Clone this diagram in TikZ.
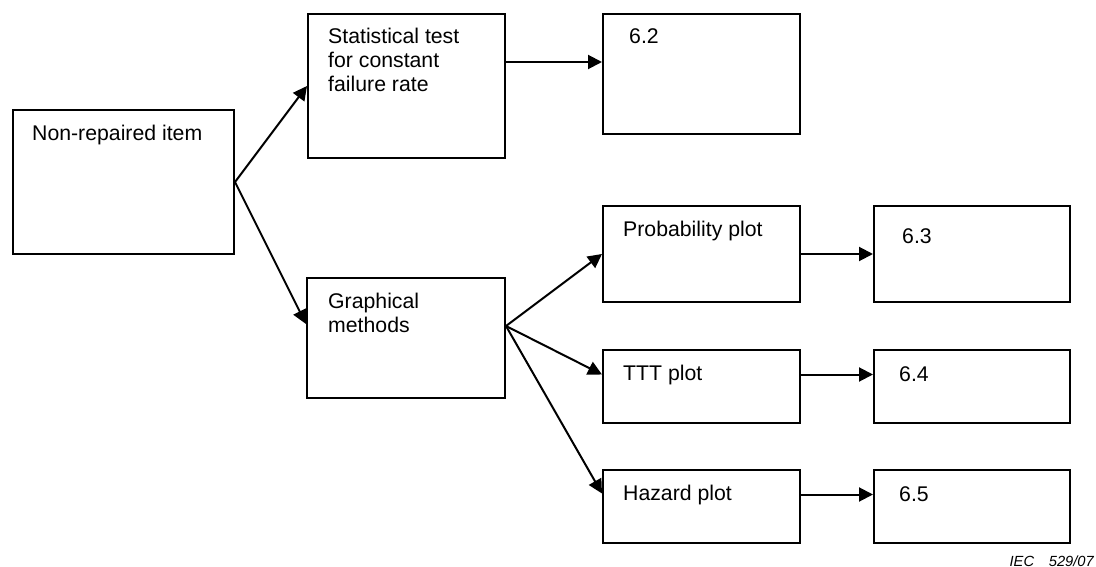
\documentclass[tikz,border=0pt]{standalone}
\usepackage{fontspec}
\setmainfont{Liberation Sans}
\usetikzlibrary{arrows.meta}
\begin{document}
\begin{tikzpicture}[x=1pt,y=-1pt]
		\tikzset{box/.style = {shape=rectangle,draw,line width=2pt,anchor=north west,inner sep=0pt}}
		\tikzset{lbl/.style = {anchor=north west,inner sep=0pt,align=left,font=\fontsize{21.25}{24}\selectfont}}
		\tikzset{arr/.style = {-{Triangle[length=14pt,width=14pt]},line width=2pt}}
		\useasboundingbox (0,0) rectangle (1096,567);
		% boxes
		\node[box,minimum width=221pt,minimum height=144pt] (item) at (12,109) {};
		\node[box,minimum width=197pt,minimum height=144pt] (stat) at (307,13) {};
		\node[box,minimum width=197pt,minimum height=120pt] (s62) at (602,13) {};
		\node[box,minimum width=198pt,minimum height=120pt] (graph) at (306,277) {};
		\node[box,minimum width=197pt,minimum height=96pt] (prob) at (602,205) {};
		\node[box,minimum width=196pt,minimum height=96pt] (s63) at (873,205) {};
		\node[box,minimum width=197pt,minimum height=73pt] (ttt) at (602,349) {};
		\node[box,minimum width=196pt,minimum height=73pt] (s64) at (873,349) {};
		\node[box,minimum width=197pt,minimum height=73pt] (hazard) at (602,469) {};
		\node[box,minimum width=196pt,minimum height=73pt] (s65) at (873,469) {};
		% texts
		\node[lbl] (itemtxt) at ([shift={(20,16)}]item.north west) {Non-repaired item};
		\node[lbl] (stattxt) at ([shift={(21,15)}]stat.north west) {Statistical test\\for constant\\failure rate};
		\node[lbl] (s62txt) at ([shift={(27,15)}]s62.north west) {6.2};
		\node[lbl] (graphtxt) at ([shift={(22,16)}]graph.north west) {Graphical\\methods};
		\node[lbl] (probtxt) at ([shift={(21,16)}]prob.north west) {Probability plot};
		\node[lbl] (s63txt) at ([shift={(29,23)}]s63.north west) {6.3};
		\node[lbl] (ttttxt) at ([shift={(21,16)}]ttt.north west) {TTT plot};
		\node[lbl] (s64txt) at ([shift={(26,17)}]s64.north west) {6.4};
		\node[lbl] (hazardtxt) at ([shift={(21,16)}]hazard.north west) {Hazard plot};
		\node[lbl] (s65txt) at ([shift={(26,17)}]s65.north west) {6.5};
		\node[anchor=base east,inner sep=0pt,font=\fontsize{14.7}{16}\itshape] (iec) at (1094,566) {IEC\quad 529/07};
		% connectors
		\coordinate (gfork) at ([yshift=12pt]graph.east);
		\draw[arr] (item.east) -- (stat.west);
		\draw[arr] (item.east) -- ([yshift=14pt]graph.west);
		\draw[arr] ([yshift=24pt]stat.east) -- ([yshift=12pt]s62.west);
		\draw[arr] (gfork) -- (prob.west);
		\draw[arr] (gfork) -- ([yshift=12pt]ttt.west);
		\draw[arr] (gfork) -- ([yshift=13pt]hazard.west);
		\draw[arr] (prob.east) -- (s63.west);
		\draw[arr] ([yshift=12pt]ttt.east) -- ([yshift=12pt]s64.west);
		\draw[arr] ([yshift=12pt]hazard.east) -- ([yshift=12pt]s65.west);
	\end{tikzpicture}
\end{document}
